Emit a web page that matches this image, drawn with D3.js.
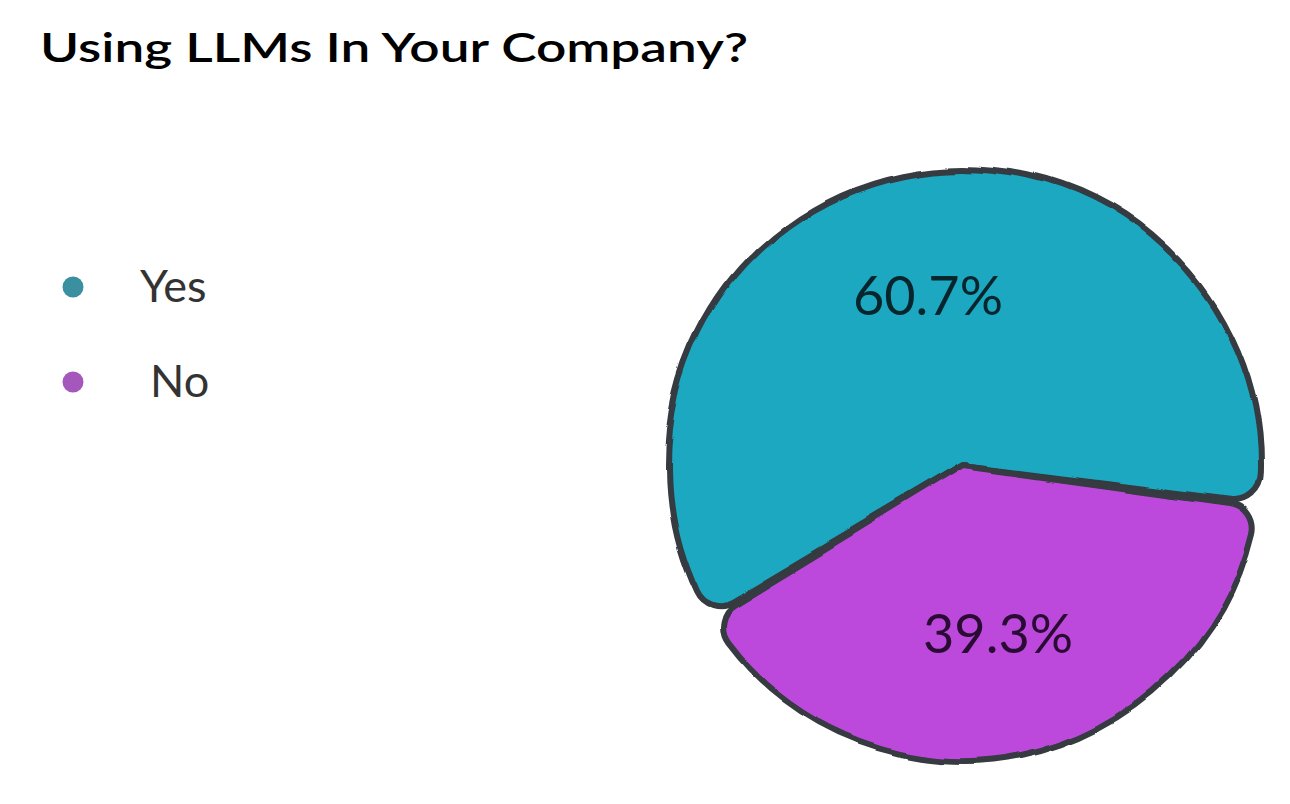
<!DOCTYPE html>
<html>
<head>
<meta charset="utf-8">
<script src="https://cdn.jsdelivr.net/npm/d3@7"></script>
<style>
  html, body { margin: 0; padding: 0; background: #ffffff; }
  svg { display: block; }
</style>
</head>
<body>
<svg id="chart" width="1290" height="804"></svg>
<script>
// ---- data ----
const title = "Using LLMs In Your Company?";
const categories = ["Yes", "No"];
const values = [60.7, 39.3];
const sliceColors = ["#1aa8c0", "#bc4adc"];
const legendColors = ["#3a8fa1", "#a558bb"];
const labelColors = ["#07252d", "#2a0b33"];

// ---- layout ----
const W = 1290, H = 804;
const cx = 963, cy = 465, R = 297;
const svg = d3.select("#chart");
const ink = "#353a3f";
const font = "Lato, 'Noto Sans', sans-serif";

// hand-drawn wobble filter
const defs = svg.append("defs");
const f = defs.append("filter").attr("id", "wobble")
  .attr("x", "-10%").attr("y", "-10%").attr("width", "120%").attr("height", "120%");
f.append("feTurbulence").attr("type", "fractalNoise")
  .attr("baseFrequency", 0.006).attr("numOctaves", 2).attr("seed", 3).attr("result", "noise");
f.append("feDisplacementMap").attr("in", "SourceGraphic").attr("in2", "noise")
  .attr("scale", 14).attr("xChannelSelector", "R").attr("yChannelSelector", "G");

// title
svg.append("text")
  .attr("x", 40).attr("y", 62)
  .attr("font-family", font).attr("font-size", 40).attr("font-weight", 600)
  .attr("textLength", 708).attr("lengthAdjust", "spacingAndGlyphs")
  .attr("fill", "#000")
  .text(title);

// legend
const legend = svg.append("g");
const legY = d3.scalePoint().domain(categories).range([287, 382]);
categories.forEach((c, i) => {
  legend.append("circle")
    .attr("cx", 73).attr("cy", legY(c)).attr("r", 10.5)
    .attr("fill", legendColors[i]);
  legend.append("text")
    .attr("x", i === 0 ? 140 : 150).attr("y", legY(c) + 15)
    .attr("font-family", font).attr("font-size", 45)
    .attr("fill", "#333")
    .text(c);
});

// pie
const pie = d3.pie().sort(null)
  .startAngle(239 * Math.PI / 180)
  .endAngle(239 * Math.PI / 180 + 2 * Math.PI);
const arcs = pie(values);
const arc = d3.arc().innerRadius(0).outerRadius(R).cornerRadius(26).padAngle(0.012);
const labelArc = d3.arc().innerRadius(R * 0.58).outerRadius(R * 0.58);

const g = svg.append("g").attr("transform", `translate(${cx},${cy})`);
g.append("g").attr("filter", "url(#wobble)")
  .selectAll("path").data(arcs).join("path")
  .attr("d", arc)
  .attr("fill", (d, i) => sliceColors[i])
  .attr("stroke", ink).attr("stroke-width", 6)
  .attr("stroke-linejoin", "round");

g.selectAll("text.lbl").data(arcs).join("text")
  .attr("class", "lbl")
  .attr("transform", d => `translate(${labelArc.centroid(d)})`)
  .attr("text-anchor", "middle").attr("dy", "0.35em")
  .attr("font-family", font).attr("font-size", 54)
  .attr("fill", (d, i) => labelColors[i])
  .text(d => d.data.toFixed(1) + "%");
</script>
</body>
</html>
